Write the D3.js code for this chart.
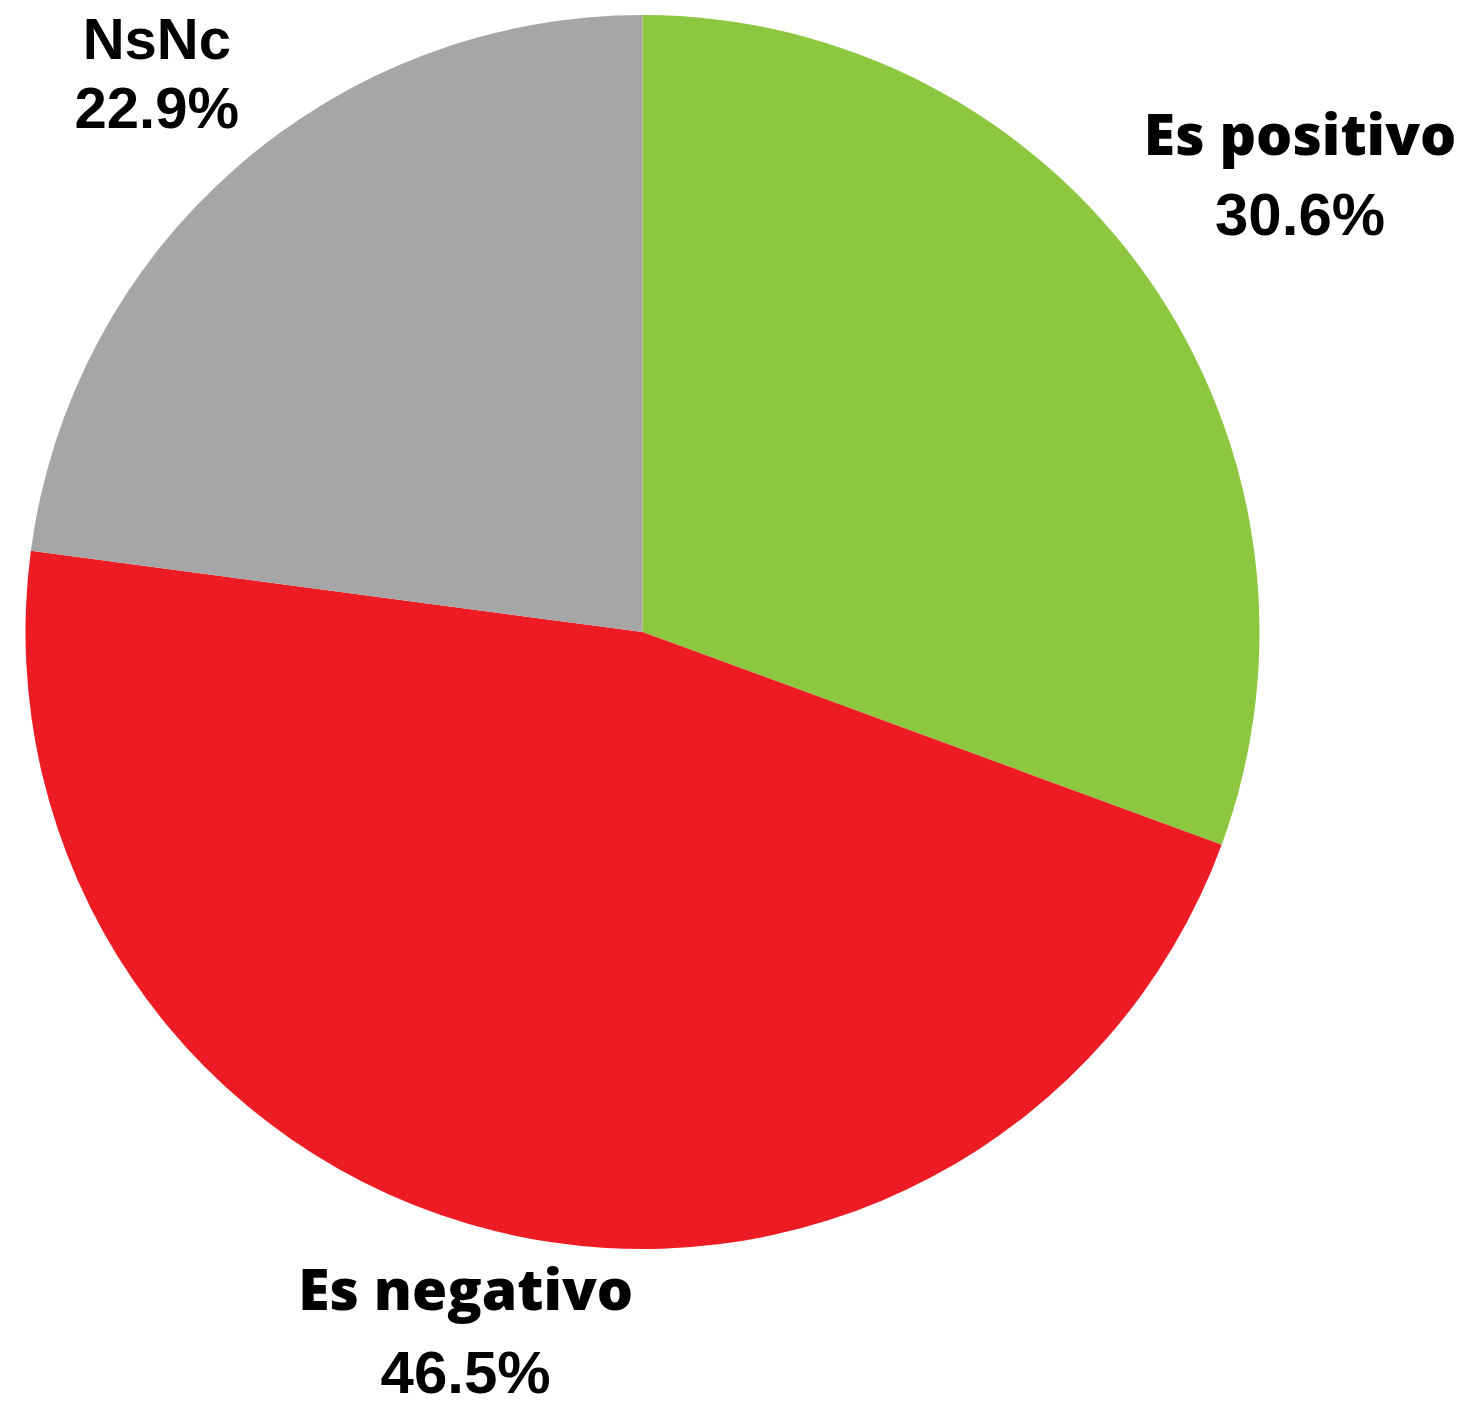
<!DOCTYPE html>
<html>
<head>
<meta charset="utf-8">
<script src="https://cdn.jsdelivr.net/npm/d3@7"></script>
<style>
  html, body { margin: 0; padding: 0; background: #ffffff; }
  .label-name { font-family: "Open Sans", "Liberation Sans", sans-serif; font-weight: 800; }
  .label-value { font-family: "Liberation Sans", Arial, sans-serif; font-weight: 700; }
  .label-plain { font-family: "Liberation Sans", Arial, sans-serif; font-weight: 700; }
</style>
</head>
<body>
<div id="chart"></div>
<script>
// data
const categories = ["Es positivo", "Es negativo", "NsNc"];
const values = [30.6, 46.5, 22.9];
const colors = ["#8DC63F", "#ED1C24", "#A6A6A6"];

var width = 1464, height = 1410;
var cx = 642.5, cy = 632, radius = 617;

// label placement: distance from centre (fraction of radius) + line offsets
const labelRadius = [1.28, 1.21, 1.17];
const labelNudge = [[10, 15], [2, -6], [-10, 4]];
const lineGap = [[-40, 40], [-41, 42], [-34, 35]];
const labelClass = ["label-name", "label-name", "label-plain"];
const labelSize = [57, 57, 58];
const valueSize = [60, 60, 58];

var svg = d3
  .select("#chart")
  .append("svg")
  .attr("width", width)
  .attr("height", height)
  .append("g")
  .attr("transform", "translate(" + cx + "," + cy + ")");

var rows = categories.map((c, i) => ({ name: c, value: values[i], color: colors[i], i: i }));

var pie = d3.pie()
  .sort(null)
  .value((d) => d.value);

var arc = d3.arc().innerRadius(0).outerRadius(radius);

var arcs = pie(rows);

svg
  .append("g")
  .attr("class", "slices")
  .selectAll("path")
  .data(arcs)
  .enter()
  .append("path")
  .attr("d", arc)
  .attr("fill", (d) => d.data.color);

var labels = svg
  .append("g")
  .attr("class", "labels")
  .selectAll("g")
  .data(arcs)
  .enter()
  .append("g")
  .attr("transform", function (d) {
    const i = d.data.i;
    const a = (d.startAngle + d.endAngle) / 2;
    const r = radius * labelRadius[i];
    const x = Math.sin(a) * r + labelNudge[i][0];
    const y = -Math.cos(a) * r + labelNudge[i][1];
    return "translate(" + x + "," + y + ")";
  });

labels
  .append("text")
  .attr("class", (d) => labelClass[d.data.i])
  .attr("text-anchor", "middle")
  .attr("font-size", (d) => labelSize[d.data.i] + "px")
  .attr("y", (d) => lineGap[d.data.i][0])
  .attr("fill", "#000")
  .text((d) => d.data.name);

labels
  .append("text")
  .attr("class", "label-value")
  .attr("text-anchor", "middle")
  .attr("font-size", (d) => valueSize[d.data.i] + "px")
  .attr("y", (d) => lineGap[d.data.i][1])
  .attr("fill", "#000")
  .text((d) => d3.format(".1f")(d.data.value) + "%");
</script>
</body>
</html>
